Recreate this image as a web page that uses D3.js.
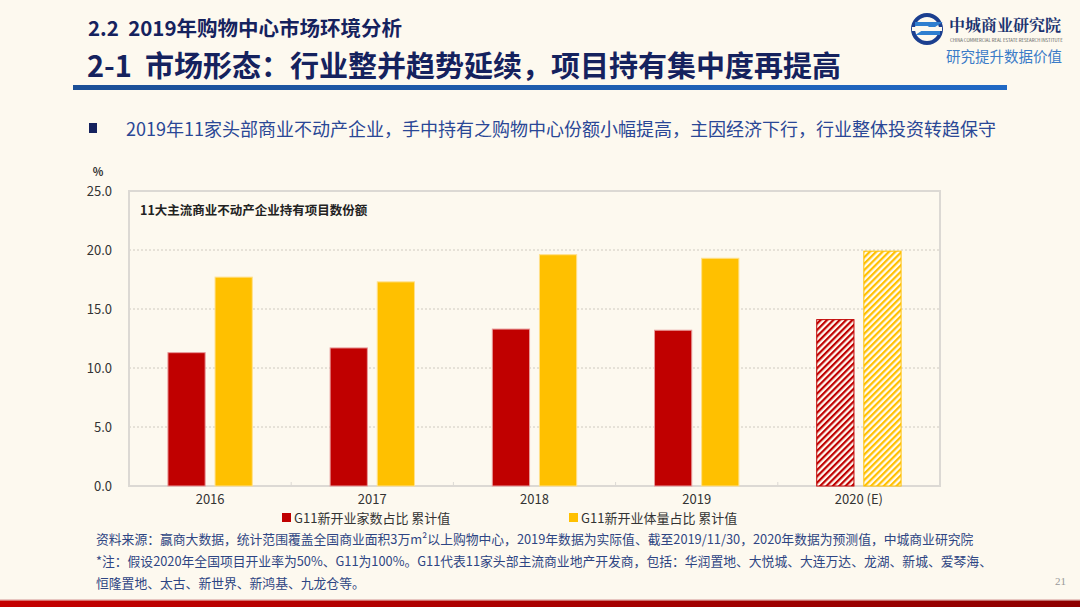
<!DOCTYPE html>
<html><head><meta charset="utf-8">
<script src="https://cdn.jsdelivr.net/npm/d3@7/dist/d3.min.js"></script>
<style>
html,body{margin:0;padding:0;background:#fdf9ef;}
svg{display:block;font-family:"Noto Sans CJK SC","Noto Sans",sans-serif;}
text{white-space:pre;}
</style></head>
<body><svg id="c" width="1080" height="607"></svg>
<script>
const categories = ["2016","2017","2018","2019","2020 (E)"];
const countShare = [11.3, 11.7, 13.3, 13.2, 14.1];
const volumeShare = [17.7, 17.3, 19.6, 19.3, 19.9];
const forecast = [false, false, false, false, true];
const yTicks = [0, 5, 10, 15, 20, 25];
const seriesNames = ["G11新开业家数占比 累计值", "G11新开业体量占比 累计值"];
const seriesColors = ["#c00000", "#ffc000"];

const svg = d3.select("#c");
const W = 1080, H = 607;
const font = '"Noto Sans CJK SC","Noto Sans",sans-serif';

svg.append("rect").attr("width",W).attr("height",H).attr("fill","#fdf9ef");

const defs = svg.append("defs");
seriesColors.forEach((c,i)=>{
  const p = defs.append("pattern").attr("id","hatch"+i).attr("patternUnits","userSpaceOnUse")
    .attr("width",4.5).attr("height",4.5).attr("patternTransform","rotate(45)");
  p.append("rect").attr("width",4.5).attr("height",4.5).attr("fill","#fffaf0");
  p.append("rect").attr("x",0).attr("y",0).attr("width",2.2).attr("height",4.5).attr("fill",c);
});
const gBot = defs.append("linearGradient").attr("id","botgrad");
gBot.append("stop").attr("offset","0%").attr("stop-color","#c40000");
gBot.append("stop").attr("offset","100%").attr("stop-color","#8e0000");
const gLine = defs.append("linearGradient").attr("id","linegrad");
gLine.append("stop").attr("offset","0%").attr("stop-color","#1c4f96");
gLine.append("stop").attr("offset","100%").attr("stop-color","#2169c4");

// header
svg.append("text").attr("x",88).attr("y",36).attr("font-size",20.5).attr("font-weight","bold")
  .attr("fill","#15225e").attr("xml:space","preserve").text("2.2  2019年购物中心市场环境分析");
svg.append("text").attr("x",87).attr("y",77).attr("font-size",29).attr("font-weight","bold")
  .attr("fill","#15225e").attr("xml:space","preserve").text("2-1  市场形态：行业整并趋势延续，项目持有集中度再提高");
svg.append("rect").attr("x",73).attr("y",85).attr("width",934).attr("height",5).attr("fill","url(#linegrad)");

// logo
const lg = svg.append("g");
lg.append("circle").attr("cx",927).attr("cy",29).attr("r",14).attr("fill","none").attr("stroke","#1b3f8f").attr("stroke-width",4);
lg.append("path").attr("d","M915,24 L936,24 L922,33 L940,33").attr("fill","none").attr("stroke","#2f7fd0").attr("stroke-width",4);
lg.append("rect").attr("x",912).attr("y",27).attr("width",30).attr("height",4).attr("fill","#fdf9ef");
lg.append("text").attr("x",949).attr("y",31).attr("font-size",16).attr("font-weight","bold")
  .attr("font-family",'"Noto Serif CJK SC","Noto Sans CJK SC",serif').attr("fill","#1b3370").text("中城商业研究院");
lg.append("text").attr("x",950).attr("y",42).attr("font-size",4.3).attr("fill","#555")
  .text("CHINA COMMERCIAL REAL ESTATE RESEARCH INSTITUTE");
lg.append("text").attr("x",946).attr("y",62).attr("font-size",14.5).attr("fill","#3a7bc8").text("研究提升数据价值");

// bullet
svg.append("rect").attr("x",89).attr("y",123).attr("width",8).attr("height",10).attr("fill","#15225e");
svg.append("text").attr("x",126).attr("y",136).attr("font-size",18).attr("fill","#2a4796")
  .text("2019年11家头部商业不动产企业，手中持有之购物中心份额小幅提高，主因经济下行，行业整体投资转趋保守");

// chart
const m = {l:129, r:940, t:191, b:486};
const x = d3.scaleBand().domain(categories).range([m.l, m.r]).paddingInner(0).paddingOuter(0);
const y = d3.scaleLinear().domain([0,25]).range([m.b, m.t]);

svg.append("g").selectAll("line").data(yTicks.filter(t=>t>0 && t<25)).join("line")
  .attr("x1",m.l).attr("x2",m.r).attr("y1",d=>y(d)).attr("y2",d=>y(d))
  .attr("stroke","#cfcac0").attr("stroke-width",1).attr("stroke-dasharray","2,2");

svg.append("rect").attr("x",m.l).attr("y",m.t).attr("width",m.r-m.l).attr("height",m.b-m.t)
  .attr("fill","none").attr("stroke","#dcd9d4").attr("stroke-width",2);

const yAxis = d3.axisLeft(y).tickValues(yTicks).tickFormat(d3.format(".1f")).tickSize(0).tickPadding(17);
const ya = svg.append("g").attr("transform",`translate(${m.l},0)`).call(yAxis);
ya.select(".domain").remove();
ya.selectAll("text").attr("font-size",13).attr("fill","#333").attr("font-family",font);
svg.append("text").attr("x",98).attr("y",176).attr("text-anchor","middle").attr("font-size",11)
  .attr("font-weight","bold").attr("fill","#333").text("%");

const xAxis = d3.axisBottom(x).tickSize(0).tickPadding(9);
const xa = svg.append("g").attr("transform",`translate(0,${m.b})`).call(xAxis);
xa.select(".domain").remove();
xa.selectAll("text").attr("font-size",13).attr("fill","#333").attr("font-family",font);
svg.append("g").selectAll("line").data(categories.slice(1)).join("line")
  .attr("x1",d=>x(d)).attr("x2",d=>x(d)).attr("y1",m.b).attr("y2",m.b-4)
  .attr("stroke","#dcd9d4").attr("stroke-width",1);

// bars
const bw = x.bandwidth();
const inner = d3.scaleBand().domain([0,1]).range([bw*0.24, bw*0.76]).paddingInner(0.21).paddingOuter(0);
const series = [countShare, volumeShare];
const strokeCols = ["#e89a9a","#ffe08a"];
series.forEach((vals,si)=>{
  svg.append("g").selectAll("rect").data(categories).join("rect")
    .attr("x",(d)=>x(d)+inner(si))
    .attr("width",inner.bandwidth())
    .attr("y",(d,i)=>y(vals[i]))
    .attr("height",(d,i)=>y(0)-y(vals[i]))
    .attr("fill",(d,i)=>forecast[i] ? `url(#hatch${si})` : seriesColors[si])
    .attr("stroke",(d,i)=>forecast[i] ? seriesColors[si] : strokeCols[si])
    .attr("stroke-width",1);
});

svg.append("text").attr("x",140).attr("y",215).attr("font-size",12.5).attr("font-weight","bold")
  .attr("fill","#222").text("11大主流商业不动产企业持有项目数份额");

// legend
const legX = [282, 569];
seriesNames.forEach((n,i)=>{
  svg.append("rect").attr("x",legX[i]).attr("y",513).attr("width",9).attr("height",9).attr("fill",seriesColors[i]);
  svg.append("text").attr("x",legX[i]+12).attr("y",523).attr("font-size",13).attr("fill","#333").text(n);
});

// footnotes
const notes = [
  "资料来源：赢商大数据，统计范围覆盖全国商业面积3万m²以上购物中心，2019年数据为实际值、截至2019/11/30，2020年数据为预测值，中城商业研究院",
  "*注：假设2020年全国项目开业率为50%、G11为100%。G11代表11家头部主流商业地产开发商，包括：华润置地、大悦城、大连万达、龙湖、新城、爱琴海、",
  "恒隆置地、太古、新世界、新鸿基、九龙仓等。"
];
notes.forEach((t,i)=>{
  svg.append("text").attr("x",96).attr("y",544+i*22).attr("font-size",12.8).attr("fill","#2e4583").text(t);
});
svg.append("text").attr("x",1066).attr("y",585).attr("text-anchor","end").attr("font-size",11)
  .attr("fill","#999").attr("font-family","Liberation Serif, serif").text("21");

svg.append("rect").attr("x",0).attr("y",599).attr("width",W).attr("height",1.5).attr("fill","#e8c6c0");
svg.append("rect").attr("x",0).attr("y",600.5).attr("width",W).attr("height",6.5).attr("fill","url(#botgrad)");
</script></body></html>
